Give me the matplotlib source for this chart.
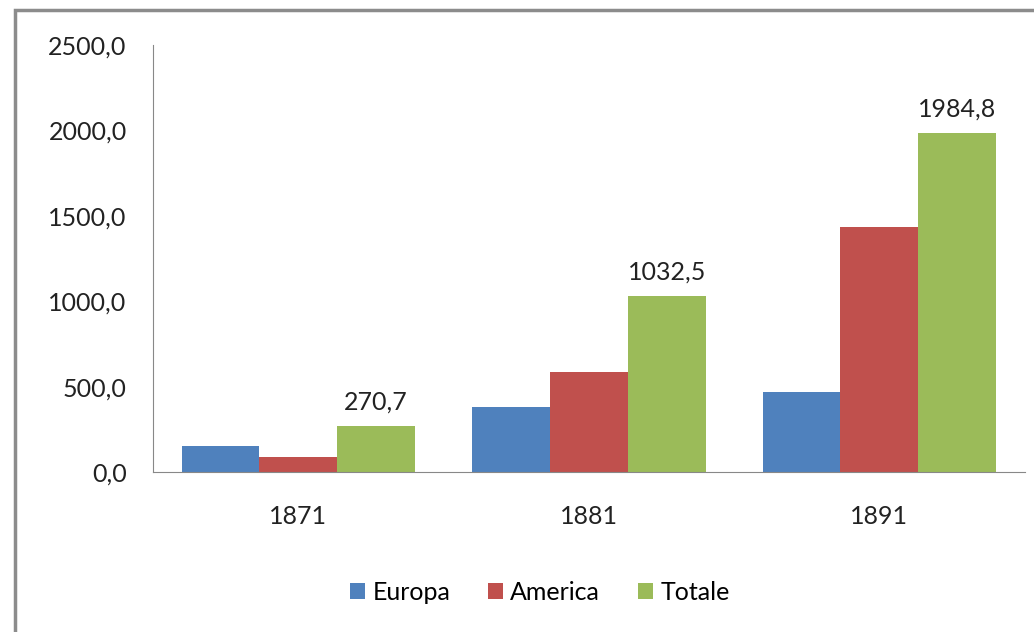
import matplotlib.pyplot as plt
import numpy as np
from matplotlib.patches import Rectangle

# Dati
anni = ['1871', '1881', '1891']
europa = [153, 382, 470]
america = [88, 584, 1432]
totale = [270.7, 1032.5, 1984.8]

plt.rcParams['font.family'] = ['Lato', 'DejaVu Sans']

fig = plt.figure(figsize=(10.34, 6.32), dpi=100)
ax = fig.add_axes([0.148, 0.253, 0.843, 0.676])

x = np.arange(len(anni))
w = 0.268
ax.bar(x - w, europa, w, color='#4F81BD', label='Europa')
ax.bar(x, america, w, color='#C0504D', label='America')
bars_tot = ax.bar(x + w, totale, w, color='#9BBB59', label='Totale')

# Etichette solo per il totale
for b, v in zip(bars_tot, totale):
    ax.annotate(f'{v:.1f}'.replace('.', ','), (b.get_x() + b.get_width() / 2, v),
                xytext=(0, 9), textcoords='offset points',
                ha='center', va='bottom', fontsize=18, color='#222222')

ax.set_xlim(-0.5, 2.5)
ax.set_ylim(0, 2500)
ax.set_yticks(np.arange(0, 2501, 500))
ax.set_yticklabels([f'{v:.1f}'.replace('.', ',') for v in np.arange(0, 2501, 500)])
ax.set_xticks(x)
ax.set_xticklabels(anni)
ax.tick_params(axis='y', length=0, pad=19, labelsize=18, labelcolor='#222222')
ax.tick_params(axis='x', length=0, pad=24, labelsize=18, labelcolor='#222222')

for s in ['top', 'right']:
    ax.spines[s].set_visible(False)
ax.spines['left'].set_color('#888888')
ax.spines['bottom'].set_color('#888888')

fig.legend(loc='center', bbox_to_anchor=(0.522, 1 - 592 / 632), ncol=3, frameon=False,
           fontsize=18, handlelength=0.6, handleheight=0.6, handletextpad=0.3,
           columnspacing=1.5)

# Bordo grigio
fig.patches.append(Rectangle((15 / 1034, -0.1), 1.2, 1.1 - 10 / 632,
                             transform=fig.transFigure, fill=False,
                             edgecolor='#8c8c8c', linewidth=2.5))

plt.savefig('out.png', dpi=100)
